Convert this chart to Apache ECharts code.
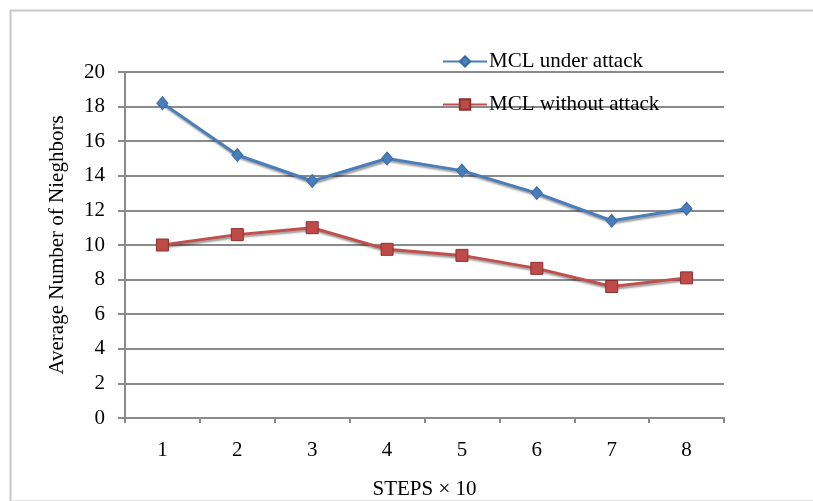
<!DOCTYPE html>
<html>
<head>
<meta charset="utf-8">
<script src="https://cdn.jsdelivr.net/npm/echarts@6/dist/echarts.min.js"></script>
<style>
  html, body { margin: 0; padding: 0; background: #fff; }
  #chart { width: 813px; height: 501px; }
</style>
</head>
<body>
<div id="chart"></div>
<script>
// Step numbers (in units of 10 steps)
const steps = ['1', '2', '3', '4', '5', '6', '7', '8'];
// Average neighbour count per step
const underAttack = [18.2, 15.2, 13.7, 15.0, 14.3, 13.0, 11.4, 12.1];
const withoutAttack = [10.0, 10.6, 11.0, 9.75, 9.4, 8.65, 7.6, 8.1];
const seriesNames = ['MCL under attack', 'MCL without attack'];

const FONT = '"Liberation Serif", "Times New Roman", serif';
const GRID_COLOR = '#8a8a8a';

const chart = echarts.init(document.getElementById('chart'), null, { renderer: 'canvas' });

const lineShadow = {
  shadowColor: 'rgba(0,0,0,0.4)',
  shadowBlur: 2,
  shadowOffsetX: 1,
  shadowOffsetY: 2
};

chart.setOption({
  animation: false,
  backgroundColor: '#fff',
  textStyle: { fontFamily: FONT, color: '#000' },
  graphic: [{
    type: 'rect',
    left: 8, top: 8, z: -10,
    shape: { width: 830, height: 491 },
    style: { fill: 'none', stroke: '#c8c8c8', lineWidth: 2 }
  }],
  grid: {
    left: 125, right: 89, top: 72, bottom: 83,
    containLabel: false,
    outerBoundsMode: 'none'
  },
  legend: {
    orient: 'vertical',
    left: 437,
    top: 46,
    itemGap: 22,
    itemWidth: 44,
    itemHeight: 13,
    textStyle: { fontFamily: FONT, fontSize: 21, color: '#000', padding: [0, 0, 0, -3] },
    data: seriesNames
  },
  xAxis: {
    type: 'category',
    data: steps,
    boundaryGap: true,
    name: 'STEPS × 10',
    nameLocation: 'middle',
    nameGap: 61,
    nameTextStyle: { fontFamily: FONT, fontSize: 21, color: '#000' },
    axisLine: { lineStyle: { color: GRID_COLOR, width: 2 } },
    axisTick: { show: true, length: 5, inside: false, lineStyle: { color: GRID_COLOR, width: 2 } },
    axisLabel: { fontFamily: FONT, fontSize: 21, color: '#000', margin: 22 },
    splitLine: { show: false }
  },
  yAxis: {
    type: 'value',
    min: 0, max: 20, interval: 2,
    name: 'Average Number of Nieghbors',
    nameLocation: 'middle',
    nameGap: 57,
    nameTextStyle: { fontFamily: FONT, fontSize: 21, color: '#000' },
    axisLine: { show: true, lineStyle: { color: GRID_COLOR, width: 2 } },
    axisTick: { show: true, length: 7, lineStyle: { color: GRID_COLOR, width: 2 } },
    axisLabel: { fontFamily: FONT, fontSize: 21, color: '#000', margin: 20 },
    splitLine: { show: true, lineStyle: { color: GRID_COLOR, width: 2 } }
  },
  series: [
    {
      name: seriesNames[0],
      type: 'line',
      data: underAttack,
      symbol: 'diamond',
      symbolSize: [11, 13],
      color: '#4a7ebb',
      lineStyle: Object.assign({ color: '#4a7ebb', width: 3 }, lineShadow),
      itemStyle: { color: '#4a7ebb', borderColor: '#3a6aa5', borderWidth: 1 }
    },
    {
      name: seriesNames[1],
      type: 'line',
      data: withoutAttack,
      symbol: 'rect',
      symbolSize: 12,
      color: '#be4b48',
      lineStyle: Object.assign({ color: '#c0504d', width: 3 }, lineShadow),
      itemStyle: { color: '#be4b48', borderColor: '#8c302d', borderWidth: 1 }
    }
  ]
});
</script>
</body>
</html>
